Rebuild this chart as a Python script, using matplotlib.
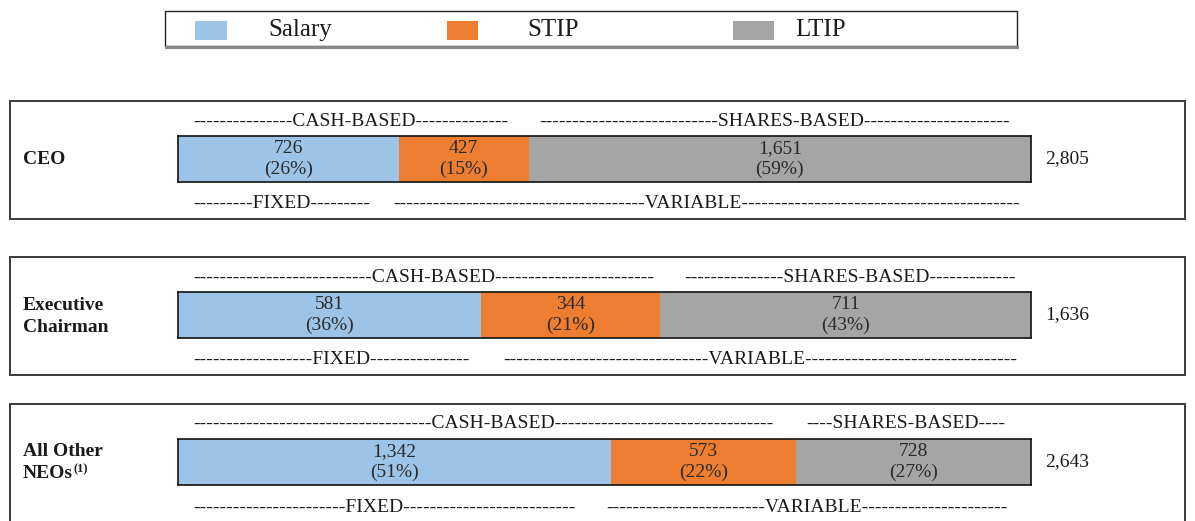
import numpy as np
import matplotlib
matplotlib.use("Agg")
import matplotlib.pyplot as plt
from matplotlib.patches import Rectangle

plt.rcParams["font.family"] = ["Liberation Serif", "DejaVu Serif"]

# Target pay mix, $ thousands
groups = ["CEO", "Executive\nChairman", "All Other\nNEOs"]
footnotes = ["", "", "(1)"]
components = ["Salary", "STIP", "LTIP"]
salary = [726, 581, 1342]
stip = [427, 344, 573]
ltip = [1651, 711, 728]
salary_pct = [26, 36, 51]
stip_pct = [15, 21, 22]
ltip_pct = [59, 43, 27]
totals = [2805, 1636, 2643]

cash_labels = ["-" * 15 + "CASH-BASED" + "-" * 14,
               "-" * 27 + "CASH-BASED" + "-" * 24,
               "-" * 36 + "CASH-BASED" + "-" * 33]
shares_labels = ["-" * 27 + "SHARES-BASED" + "-" * 22,
                 "-" * 15 + "SHARES-BASED" + "-" * 13,
                 "-" * 4 + "SHARES-BASED" + "-" * 4]
fixed_labels = ["-" * 9 + "FIXED" + "-" * 9,
                "-" * 18 + "FIXED" + "-" * 15,
                "-" * 23 + "FIXED" + "-" * 26]
variable_labels = ["-" * 38 + "VARIABLE" + "-" * 42,
                   "-" * 31 + "VARIABLE" + "-" * 32,
                   "-" * 24 + "VARIABLE" + "-" * 22]

colors = ["#9DC3E6", "#ED7D31", "#A5A5A5"]
TXT = "#1a1a1a"

W, H = 1195, 521
fig = plt.figure(figsize=(W / 100, H / 100), dpi=100)
base = fig.add_axes([0, 0, 1, 1])
base.set_xlim(0, W); base.set_ylim(H, 0); base.axis("off")

# legend strip
base.add_patch(Rectangle((165, 11), 852, 35, fill=False, ec="#222", lw=1.0))
base.plot([166, 1017], [46.5, 46.5], color="#888", lw=2.2)
for lab, col, px, pw, tx in zip(components, colors, [195, 447, 733], [32, 31, 41], [268, 527, 795]):
    base.add_patch(Rectangle((px, 21), pw, 19, color=col, lw=0))
    base.text(tx, 30, lab, fontsize=18, ha="left", va="center", color=TXT)

bar_x0, bar_x1 = 178, 1031
panel_tops = [101, 257, 404]
shares_x = [539, 684, 806]
variable_x = [393, 503, 606]

for i, top in enumerate(panel_tops):
    base.add_patch(Rectangle((10, top), 1175, 118, fill=False, ec="#3a3a3a", lw=1.4))
    bar_top, bar_bot = top + 35, top + 81
    mid = (bar_top + bar_bot) / 2

    # row name, one text per line so the footnote mark can sit after the last line
    lines = groups[i].split("\n")
    offs = np.arange(len(lines)) * 22 - (len(lines) - 1) * 11
    for line, dy in zip(lines, offs):
        t = base.text(23, mid + 1 + dy, line, fontsize=14, fontweight="bold",
                      ha="left", va="center", color=TXT)
    if footnotes[i]:
        base.text(74, mid + 1 + offs[-1] - 5, footnotes[i], fontsize=9, fontweight="bold",
                  ha="left", va="center", color=TXT)
    base.text(193, top + 20, cash_labels[i], fontsize=14, ha="left", va="center", color=TXT)
    base.text(shares_x[i], top + 20, shares_labels[i], fontsize=14, ha="left", va="center", color=TXT)
    base.text(193, top + 103, fixed_labels[i], fontsize=14, ha="left", va="center", color=TXT)
    base.text(variable_x[i], top + 103, variable_labels[i], fontsize=14, ha="left", va="center", color=TXT)
    base.text(1045, mid, f"{totals[i]:,}", fontsize=14, ha="left", va="center", color=TXT)

    ax = fig.add_axes([bar_x0 / W, 1 - bar_bot / H, (bar_x1 - bar_x0) / W, (bar_bot - bar_top) / H])
    vals = [salary[i], stip[i], ltip[i]]
    pcts = [salary_pct[i], stip_pct[i], ltip_pct[i]]
    lefts = np.concatenate([[0], np.cumsum(vals)[:-1]])
    ax.barh(0, vals, left=lefts, height=1.0, color=colors, lw=0)
    for v, l, p in zip(vals, lefts, pcts):
        ax.text(l + v / 2, 0, f"{v:,}\n({p}%)", fontsize=14, ha="center", va="center",
                linespacing=1.25, color="#2a2a2a")
    ax.set_xlim(0, sum(vals)); ax.set_ylim(-0.5, 0.5)
    ax.set_xticks([]); ax.set_yticks([])
    for s in ax.spines.values():
        s.set_color("#111"); s.set_linewidth(1.2)

fig.savefig("out.png", dpi=100)
